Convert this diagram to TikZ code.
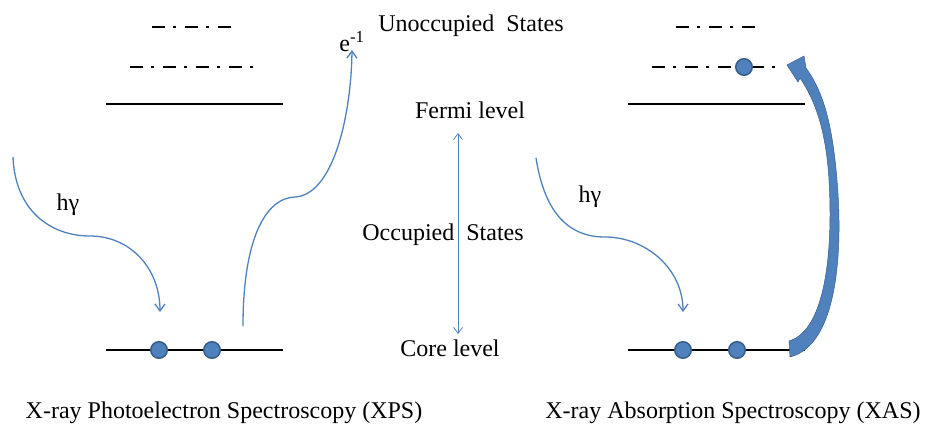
\documentclass[tikz,border=0pt]{standalone}
\usepackage{fontspec}
\setmainfont{Liberation Serif}
\usepackage{xcolor}
\usetikzlibrary{arrows.meta,positioning,calc}
\definecolor{arrowblue}{RGB}{79,129,189}
\definecolor{dotedge}{RGB}{56,93,138}
\tikzset{
    level/.style={line width=2.8pt},
    dashlevel/.style={line width=2.8pt, dash pattern=on 13pt off 8pt on 3pt off 9pt},
    electron/.style={circle, fill=arrowblue, draw=dotedge, line width=1.5pt, minimum size=16.5pt, inner sep=0pt},
    photon/.style={draw=arrowblue, line width=1.3pt, -{Straight Barb[length=7pt, width=10pt, line width=1.3pt]}},
    label/.style={font=\fontsize{24}{28}\selectfont, inner sep=0pt}
}
\begin{document}
\begin{tikzpicture}[x=1pt, y=-1pt]
    \useasboundingbox (0,0) rectangle (929,429);

    % XPS levels
    \draw[dashlevel] (152,27) -- (235,27);
    \draw[dashlevel] (130,67) -- (256,67);
    \draw[level] (106,104) -- (283,104);
    \draw[level] (106,350) -- (283,350);
    \node[electron] (xps_e1) at (159,350) {};
    \node[electron] (xps_e2) at (212,350) {};

    % XAS levels
    \draw[dashlevel] (676,27) -- (759,27);
    \draw[dashlevel] (652,67) -- (778,67);
    \draw[level] (628,104) -- (805,104);
    \draw[level] (628,350) -- (805,350);
    \node[electron] (xas_e1) at (683,350) {};
    \node[electron] (xas_e2) at (737,350) {};
    \node[electron] (xas_up) at (744,67) {};

    % Middle labels
    \node[label] (unocc) at (471,26) {Unoccupied\ \ States};
    \node[label] (fermi) at (470,110) {Fermi level};
    \node[label] (occ) at (443,235) {Occupied\ \ States};
    \node[label] (core) at (450,348) {Core level};
    \coordinate (fermi_end) at (458,133);
    \coordinate (core_end) at (458,334);
    \draw[draw=arrowblue, line width=0.8pt, {Straight Barb[length=6pt, width=9pt]}-{Straight Barb[length=6pt, width=9pt]}] (fermi_end) -- (core_end);

    % XPS photon and photoelectron
    \node[label] (xps_hv) at (68,205) {hγ};
    \coordinate (xps_in) at (13,157);
    \coordinate (xps_hit) at (160,312);
    \draw[photon] (xps_in) .. controls (15,210) and (50,236) .. (90,236)
        .. controls (130,236) and (160,268) .. (xps_hit);
    \coordinate (xps_out) at (243,326);
    \coordinate (xps_free) at (352,50);
    \draw[photon] (xps_out) .. controls (243,240) and (265,198) .. (295,197)
        .. controls (332,195) and (351,120) .. (xps_free);
    \node[label, anchor=south] (emit) at (352,52) {e\textsuperscript{-1}};

    % XAS photon and excitation
    \node[label] (xas_hv) at (590,197) {hγ};
    \coordinate (xas_in) at (536,158);
    \coordinate (xas_hit) at (683,312);
    \draw[photon] (xas_in) .. controls (545,215) and (570,237) .. (605,237)
        .. controls (645,237) and (683,268) .. (xas_hit);
    \fill[arrowblue, draw=dotedge, line width=0.5pt] (790,357)
        .. controls (838,345) and (843,250) .. (837,180)
        .. controls (832,120) and (822,90) .. (806,68)
        -- (804,56) -- (787,65) -- (798,82) -- (800,78)
        .. controls (815,100) and (826,130) .. (829,180)
        .. controls (833,250) and (826,330) .. (789,341) -- cycle;

    % Captions
    \node[label] (xps) at (224,413) {X-ray Photoelectron Spectroscopy (XPS)};
    \node[label] (xas) at (733,413) {X-ray Absorption Spectroscopy (XAS)};
\end{tikzpicture}
\end{document}
